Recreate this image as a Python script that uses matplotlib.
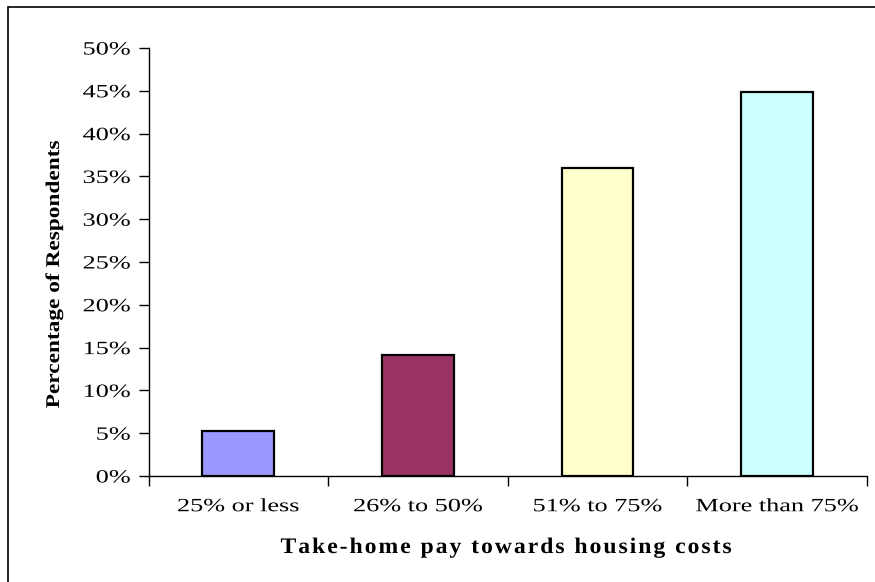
import matplotlib
matplotlib.use("Agg")
import matplotlib.pyplot as plt
from matplotlib.patches import Rectangle
from matplotlib.patheffects import AbstractPathEffect
from matplotlib.transforms import Affine2D
import numpy as np

categories = ["25% or less", "26% to 50%", "51% to 75%", "More than 75%"]
values = [5.2, 14.1, 36.0, 44.9]
colors = ["#9999FF", "#993366", "#FFFFCC", "#CCFFFF"]
yticks = [0, 5, 10, 15, 20, 25, 30, 35, 40, 45, 50]
ytick_labels = [f"{v}%" for v in yticks]
xlabel = "Take-home pay towards housing costs"
ylabel = "Percentage of Respondents"

plt.rcParams['font.family'] = ['Liberation Serif', 'DejaVu Serif']


class Stretch(AbstractPathEffect):
    """Widen glyphs horizontally (text stays a real Text artist)."""
    def __init__(self, sx, anchor="center"):
        super().__init__()
        self.sx = sx
        self.anchor = anchor

    def draw_path(self, renderer, gc, tpath, affine, rgbFace=None):
        ext = tpath.get_extents()
        if self.anchor == "right":
            cx = ext.x1
        elif self.anchor == "left":
            cx = ext.x0
        else:
            cx = (ext.x0 + ext.x1) / 2
        t = Affine2D().translate(-cx, 0).scale(self.sx, 1).translate(cx, 0) + affine
        renderer.draw_path(gc, tpath, t, rgbFace)


fig = plt.figure(figsize=(8.75, 5.82), dpi=100)
# outer border (runs past right/bottom edges as in the reference)
fig.patches.append(Rectangle((8/875, -0.05), 1.0, 1 - 7/582 + 0.05, transform=fig.transFigure,
                             fill=False, edgecolor="black", linewidth=1.2))

ax = fig.add_axes([148.5/875, 1 - 476/582, (867 - 148.5)/875, (476 - 48)/582])
x = np.arange(len(categories))
ax.bar(x, values, width=0.4, color=colors, edgecolor="black", linewidth=1.6, zorder=3)

ax.set_xlim(-0.5, len(categories) - 0.5)
ax.set_ylim(0, 50)
ax.set_yticks(yticks)
ax.set_yticklabels(ytick_labels, fontsize=13.5)
ax.tick_params(axis='y', direction='out', length=7, width=1, pad=6)

ax.set_xticks(x)
ax.set_xticklabels(categories, fontsize=13.5)
ax.set_xticks(np.arange(-0.5, len(categories)), minor=True)
ax.tick_params(axis='x', which='major', length=0, pad=16)
ax.tick_params(axis='x', which='minor', direction='out', length=7, width=1)

for lab in ax.get_yticklabels():
    lab.set_path_effects([Stretch(1.4, "right")])
for lab in ax.get_xticklabels():
    lab.set_path_effects([Stretch(1.4, "center")])

for s in ["top", "right"]:
    ax.spines[s].set_visible(False)
for s in ["left", "bottom"]:
    ax.spines[s].set_linewidth(1)

yl = fig.text(59/875, 1 - 274/582, ylabel, rotation=90, rotation_mode="anchor",
              ha="center", va="baseline", fontsize=14, fontweight="bold")
yl.set_path_effects([Stretch(1.2, "center")])

spaced = "\u200a".join(xlabel)
xl = fig.text(507/875, 1 - 553/582, spaced, ha="center", va="baseline",
              fontsize=16, fontweight="bold")
xl.set_path_effects([Stretch(1.065, "center")])

fig.savefig("out.png", dpi=100)
